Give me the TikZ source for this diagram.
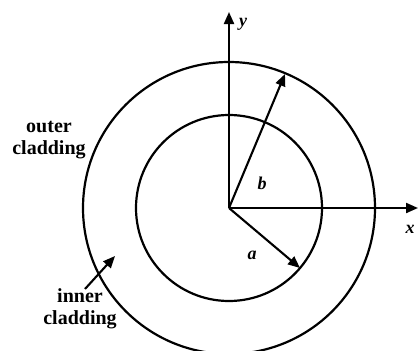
\documentclass[tikz,border=0pt]{standalone}
\usepackage{fontspec}
\setmainfont{Liberation Serif}
\usetikzlibrary{arrows.meta}
\begin{document}
\begin{tikzpicture}[x=1pt,y=-1pt,
  ln/.style={line width=2.2pt},
  arr/.style={line width=2.1pt,-{Triangle[length=12pt,width=10pt]}},
  lbl/.style={font=\fontsize{20}{22}\selectfont\bfseries,inner sep=0pt,align=center},
  var/.style={font=\fontsize{18}{18}\selectfont\bfseries\itshape,inner sep=0pt}]
\useasboundingbox (0,0) rectangle (418,351);
\coordinate (O) at (229,208);
\draw[ln] (O) circle[radius=93];
\draw[ln] (O) circle[radius=146];
\coordinate (ytip) at (229,12);
\coordinate (xtip) at (418,208);
\coordinate (btip) at (285,74);
\coordinate (atip) at (300,268);
\coordinate (itail) at (85,289);
\coordinate (itip) at (115,256);
\draw[arr] (O) -- (ytip);
\draw[arr] (O) -- (xtip);
\draw[arr] (O) -- (btip);
\draw[arr] (O) -- (atip);
\draw[arr] (itail) -- (itip);
\node[var] (ylab) at (243,24) {y};
\node[var] (xlab) at (410,229) {x};
\node[var] (blab) at (262,183) {b};
\node[var] (alab) at (252,255) {a};
\node[lbl] (outer) at (49,140) {outer\\cladding};
\node[lbl] (inner) at (80,309) {inner\\cladding};
\end{tikzpicture}
\end{document}
